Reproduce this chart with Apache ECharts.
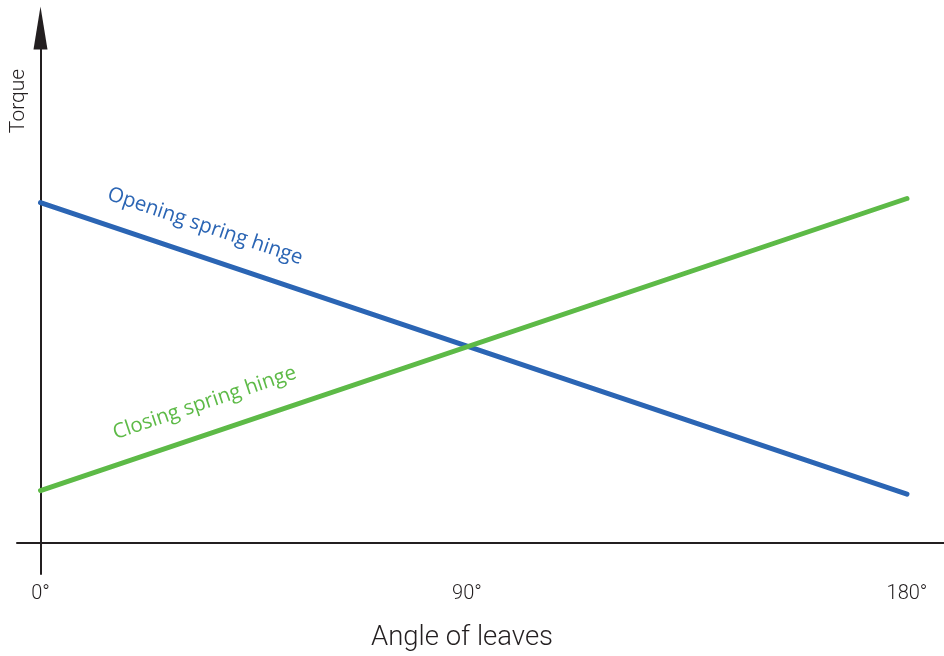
<!DOCTYPE html>
<html>
<head>
<meta charset="utf-8">
<script src="https://cdn.jsdelivr.net/npm/echarts@6/dist/echarts.min.js"></script>
<style>
html,body{margin:0;padding:0;background:#fff;}
#chart{width:944px;height:656px;}
</style>
</head>
<body>
<div id="chart"></div>
<script>
// ---- data ----
const angles = [0, 180];                 // angle of leaves (degrees)
const openingTorque = [66.1, 9.5];       // Opening spring hinge
const closingTorque = [10.2, 66.9];      // Closing spring hinge
const tickPositions = [0, 88.6, 180];    // where the tick labels sit
const tickLabels = ['0°', '90°', '180°'];
const seriesNames = ['Opening spring hinge', 'Closing spring hinge'];
const labelAnchors = [[34.2, 61.5], [34.1, 27.2]];
const xAxisTitle = 'Angle of leaves';
const yAxisTitle = 'Torque';

const BLUE = '#2b65b4';
const GREEN = '#5dba47';
const AXIS = '#231f20';

const chart = echarts.init(document.getElementById('chart'), null, {renderer: 'canvas'});

function pairs(xs, ys) { return xs.map((x, i) => [x, ys[i]]); }

chart.setOption({
  animation: false,
  backgroundColor: '#ffffff',
  title: {
    text: xAxisTitle,
    left: 371,
    top: 624,
    padding: 0,
    textStyle: {fontFamily: 'Roboto', fontWeight: 300, fontSize: 27.5, color: AXIS}
  },
  grid: {left: 17, right: 0, top: 28, bottom: 82, containLabel: false, outerBoundsMode: 'none'},
  xAxis: {
    type: 'value',
    min: -4.88,
    max: 187.69,
    splitLine: {show: false},
    axisTick: {show: false},
    axisLine: {show: true, onZero: true, lineStyle: {color: AXIS, width: 2}},
    axisLabel: {
      show: true,
      customValues: tickPositions,
      margin: 10,
      fontFamily: 'Roboto',
      fontWeight: 300,
      fontSize: 20,
      color: AXIS,
      formatter: function (v) {
        const i = tickPositions.indexOf(v);
        return i >= 0 ? tickLabels[i] : '';
      }
    }
  },
  yAxis: {
    type: 'value',
    min: -6,
    max: 100,
    splitLine: {show: false},
    axisTick: {show: false},
    axisLabel: {show: false},
    axisLine: {
      show: true,
      onZero: true,
      symbol: ['none', 'triangle'],
      symbolSize: [14, 43],
      lineStyle: {color: AXIS, width: 2}
    }
  },
  graphic: [{
    type: 'text',
    x: 18.5,
    y: 101,
    rotation: Math.PI / 2,
    style: {
      text: yAxisTitle,
      align: 'center',
      verticalAlign: 'middle',
      fontFamily: 'Roboto',
      fontWeight: 300,
      fontSize: 21,
      fill: AXIS
    }
  }],
  series: [
    {
      name: seriesNames[0],
      type: 'line',
      data: pairs(angles, openingTorque),
      symbol: 'none',
      lineStyle: {color: BLUE, width: 5, cap: 'round'},
      markPoint: {
        symbol: 'circle',
        symbolSize: 0,
        data: [{coord: labelAnchors[0], value: seriesNames[0]}],
        label: {
          show: true,
          position: 'inside',
          formatter: seriesNames[0],
          rotate: -18.55,
          fontFamily: 'Open Sans',
          fontSize: 20.5,
          color: BLUE
        }
      }
    },
    {
      name: seriesNames[1],
      type: 'line',
      data: pairs(angles, closingTorque),
      symbol: 'none',
      lineStyle: {color: GREEN, width: 5, cap: 'round'},
      markPoint: {
        symbol: 'circle',
        symbolSize: 0,
        data: [{coord: labelAnchors[1], value: seriesNames[1]}],
        label: {
          show: true,
          position: 'inside',
          formatter: seriesNames[1],
          rotate: 18.6,
          fontFamily: 'Open Sans',
          fontSize: 20.5,
          color: GREEN
        }
      }
    }
  ]
});
</script>
</body>
</html>
